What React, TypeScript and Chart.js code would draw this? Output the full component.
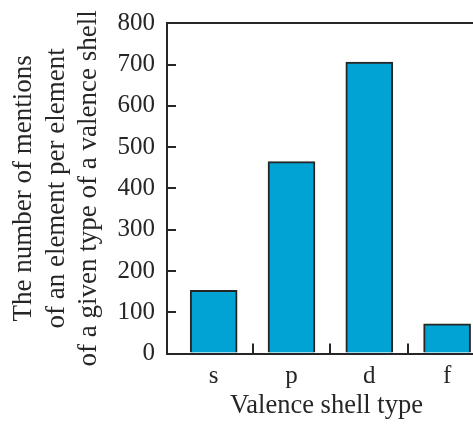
import React, { useEffect, useRef } from "react";
import { Chart, registerables } from "chart.js";

Chart.register(...registerables);

const categories = ["s", "p", "d", "f"];
const mentions = [153, 465, 706, 72];
const boundaryTicks = [0.5, 1.5, 2.5];
const yMin = 0;
const yMax = 800;
const yStep = 100;
const yTitleLines = [
  "The number of mentions",
  "of an element per element",
  "of a given type of a valence shell",
];
const xTitle = "Valence shell type";

const ink = "#262626";
const barFill = "#00A3D4";
const serif = "'Liberation Serif', 'Times New Roman', serif";

export default function App() {
  const canvasRef = useRef<HTMLCanvasElement | null>(null);

  useEffect(() => {
    const canvas = canvasRef.current;
    if (!canvas) return;
    const xTickPositions = [
      ...categories.map((_, i) => i),
      ...boundaryTicks,
    ].sort((a, b) => a - b);

    const chart = new Chart(canvas, {
      type: "bar",
      data: {
        datasets: [
          {
            data: categories.map((_, i) => ({ x: i, y: mentions[i] })),
            backgroundColor: barFill,
            borderColor: ink,
            borderWidth: 2,
            barThickness: 47,
          },
        ],
      },
      options: {
        animation: false,
        responsive: false,
        maintainAspectRatio: false,
        devicePixelRatio: 1,
        layout: { padding: { top: 15.3, right: 0, bottom: 0, left: 0 } },
        plugins: {
          legend: { display: false },
          tooltip: { enabled: false },
        },
        scales: {
          x: {
            type: "linear",
            min: -0.6,
            max: 3.5,
            offset: false,
            afterBuildTicks: (scale: any) => {
              scale.ticks = xTickPositions.map((v) => ({ value: v }));
            },
            afterFit: (scale: any) => {
              scale.height = 70.5;
              scale.paddingLeft = 0;
              scale.paddingRight = 0;
            },
            grid: {
              offset: false,
              drawOnChartArea: false,
              tickLength: -10,
              lineWidth: 2,
              tickColor: (ctx: any) =>
                ctx.tick && Number.isInteger(ctx.tick.value)
                  ? "rgba(0,0,0,0)"
                  : ink,
            },
            border: { display: true, color: ink, width: 2 },
            ticks: {
              autoSkip: false,
              maxRotation: 0,
              padding: 18,
              color: ink,
              font: { family: serif, size: 25 },
              callback: (value: any) =>
                Number.isInteger(value) ? categories[value] ?? "" : "",
            },
            title: {
              display: true,
              text: xTitle,
              color: ink,
              font: { family: serif, size: 26.5, lineHeight: 1 },
              padding: { top: 0, bottom: 4.4 },
            },
          },
          y: {
            type: "linear",
            min: yMin,
            max: yMax,
            afterFit: (scale: any) => {
              scale.width = 159;
              scale.paddingTop = 0;
              scale.paddingBottom = 0;
            },
            grid: {
              drawOnChartArea: true,
              tickLength: -9,
              lineWidth: 2,
              color: (ctx: any) =>
                ctx.tick && ctx.tick.value === yMax ? ink : "rgba(0,0,0,0)",
              tickColor: ink,
            },
            border: { display: true, color: ink, width: 2 },
            ticks: {
              stepSize: yStep,
              padding: 21,
              color: ink,
              font: { family: serif, size: 25 },
            },
            title: {
              display: true,
              text: yTitleLines,
              color: ink,
              font: { family: serif, size: 27, lineHeight: 1.2 },
              padding: { top: 0, bottom: 0 },
            },
          },
        },
      },
    } as any);

    return () => chart.destroy();
  }, []);

  return (
    <div
      style={{
        position: "fixed",
        left: 8,
        top: 8,
        width: 465,
        height: 416,
        overflow: "hidden",
      }}
    >
      <canvas
        ref={canvasRef}
        width={478}
        height={416}
        style={{ width: 478, height: 416, display: "block" }}
      />
    </div>
  );
}
